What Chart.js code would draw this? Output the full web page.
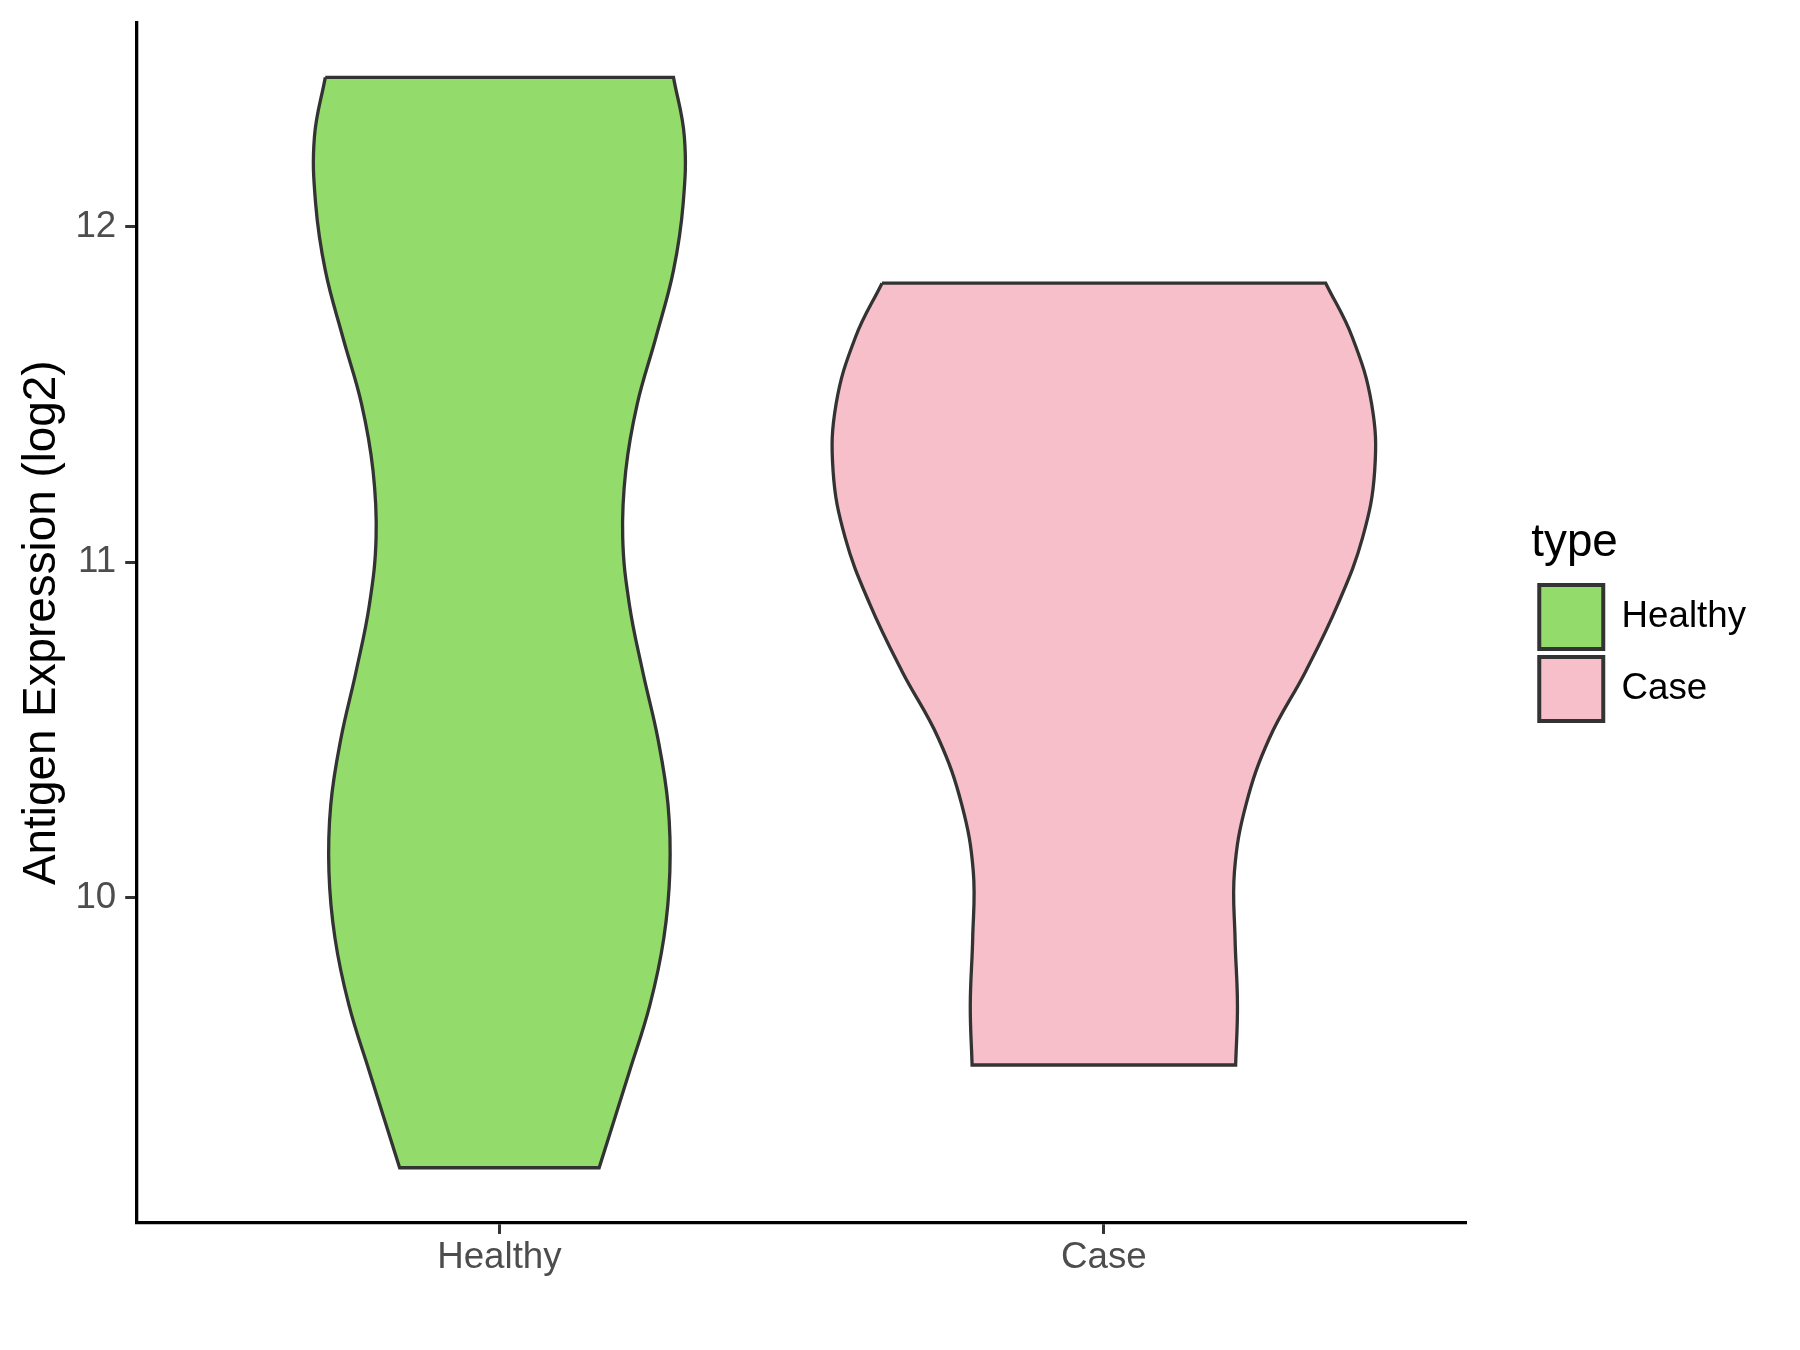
<!DOCTYPE html>
<html lang="en">
<head>
  <meta charset="UTF-8">
  <title>Antigen Expression</title>
  <script src="https://cdn.jsdelivr.net/npm/chart.js"></script>
  <style>
    body { margin: 0; background: #fff; }
    #wrap { width: 1800px; height: 1350px; }
  </style>
</head>
<body>
  <div id="wrap"><canvas id="myChart"></canvas></div>

  <script>
    const categories = ['Healthy', 'Case'];
    const yTicks = [10, 11, 12];

    // violin outlines: expression level (top to bottom) and half width of the density at that level
    const healthyLevels = [12.444, 12.267, 12.068, 11.869, 11.670, 11.471, 11.272, 11.073, 10.874, 10.675, 10.476, 10.277, 10.078, 9.880, 9.681, 9.482, 9.196];
    const healthyWidths = [0.288, 0.306, 0.304, 0.288, 0.259, 0.228, 0.209, 0.204, 0.215, 0.237, 0.262, 0.279, 0.282, 0.272, 0.249, 0.215, 0.165];

    const caseLevels = [11.831, 11.670, 11.471, 11.272, 11.073, 10.874, 10.675, 10.476, 10.277, 10.078, 9.880, 9.681, 9.502];
    const caseWidths = [0.367, 0.411, 0.443, 0.448, 0.428, 0.387, 0.334, 0.274, 0.235, 0.216, 0.217, 0.221, 0.218];

    const fillColors = ['#93DC6B', '#F7BFCA'];
    const outline = '#333333';

    // closed loop: top edge, right side down, bottom edge, left side up.
    // corner points are doubled so the spline keeps the corners sharp
    function violinOutline(center, levels, widths) {
      const n = levels.length;
      const right = levels.map((v, i) => ({ x: center + widths[i], y: v }));
      const left = levels.map((v, i) => ({ x: center - widths[i], y: v })).reverse();
      return [left[n - 1], right[0], ...right, right[n - 1], left[0], ...left];
    }

    const violins = [
      violinOutline(1, healthyLevels, healthyWidths),
      violinOutline(2, caseLevels, caseWidths)
    ];

    // space between the panel and the legend, like ggplot's legend box spacing
    const legendGap = 64.7;
    const legendLift = 1.5;
    const legendGapPlugin = {
      id: 'legendGap',
      beforeLayout(chart) {
        const legend = chart.legend;
        if (legend && !legend._gapPatched) {
          const fit = legend.fit;
          legend.fit = function () { fit.call(this); this.width += legendGap; };
          legend._gapPatched = true;
        }
      },
      afterLayout(chart) {
        const legend = chart.legend;
        if (!legend) return;
        legend.left += legendGap;
        legend.top -= legendLift;
        legend.bottom -= legendLift;
      }
    };

    Chart.defaults.font.family = "'Liberation Sans', Arial, sans-serif";

    const ctx = document.getElementById('myChart').getContext('2d');
    new Chart(ctx, {
      type: 'line',
      data: {
        datasets: categories.map((name, i) => ({
          label: name,
          data: violins[i],
          backgroundColor: fillColors[i],
          borderColor: outline,
          borderWidth: 3.3,
          fill: 'shape',
          tension: 0.4,
          pointRadius: 0,
          pointHoverRadius: 0
        }))
      },
      options: {
        responsive: true,
        maintainAspectRatio: false,
        animation: false,
        indexAxis: 'y',
        layout: { padding: { left: 0, top: 23, right: 44, bottom: 68 } },
        scales: {
          x: {
            type: 'linear',
            min: 0.4,
            max: 2.6,
            afterBuildTicks: scale => { scale.ticks = categories.map((c, i) => ({ value: i + 1 })); },
            ticks: {
              callback: value => categories[value - 1],
              color: '#4D4D4D',
              font: { size: 36.7 },
              padding: 2
            },
            grid: { drawOnChartArea: false, drawTicks: true, tickLength: 11.5, tickWidth: 3, tickColor: '#333333' },
            border: { display: true, color: '#000000', width: 3.3 }
          },
          y: {
            type: 'linear',
            min: 9.033,
            max: 12.606,
            afterBuildTicks: scale => { scale.ticks = yTicks.map(v => ({ value: v })); },
            // the panel runs to the top edge like ggplot, so drop the label overhang padding
            afterFit: scale => { scale.paddingTop = 0; scale.paddingBottom = 0; },
            ticks: {
              color: '#4D4D4D',
              font: { size: 36.7 },
              padding: 9
            },
            grid: { drawOnChartArea: false, drawTicks: true, tickLength: 11.5, tickWidth: 3, tickColor: '#333333' },
            border: { display: true, color: '#000000', width: 3.3 },
            title: {
              display: true,
              text: 'Antigen Expression (log2)',
              color: '#000000',
              font: { size: 45.8, lineHeight: 1 },
              padding: { top: 19, bottom: 1.6 }
            }
          }
        },
        plugins: {
          tooltip: { enabled: false },
          legend: {
            position: 'right',
            align: 'center',
            fullSize: false,
            title: {
              display: true,
              text: 'type',
              position: 'start',
              color: '#000000',
              font: { size: 45.8 },
              padding: { top: 7, bottom: 1.6 }
            },
            labels: {
              boxWidth: 64,
              boxHeight: 64,
              padding: 8,
              color: '#000000',
              font: { size: 36.7 },
              generateLabels: chart =>
                Chart.defaults.plugins.legend.labels.generateLabels(chart).map(item => ({ ...item, lineWidth: 4 }))
            }
          }
        }
      },
      plugins: [legendGapPlugin]
    });
  </script>
</body>
</html>
